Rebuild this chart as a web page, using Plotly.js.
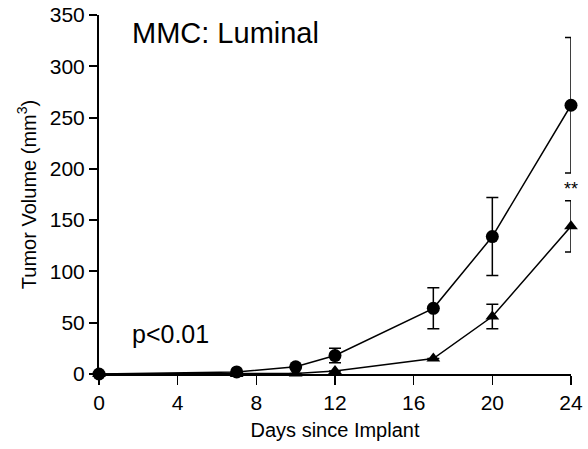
<!DOCTYPE html>
<html>
<head>
<meta charset="utf-8">
<script src="https://cdn.plot.ly/plotly-3.0.1.min.js"></script>
<style>html,body{margin:0;padding:0;background:#fff;}#chart{width:588px;height:449px;}</style>
</head>
<body>
<div id="chart"></div>
<script>
// Data
const days = [0, 7, 10, 12, 17, 20, 24];
const circleMean = [0, 2, 7, 18, 64, 134, 262];
const circleErr  = [0, 0, 0, 7, 20, 38, 66];
const triangleMean = [0, 0, 0.5, 3, 15, 56, 144];
const triangleErr  = [0, 0, 0, 0, 0, 12, 25];
const xTicks = [0, 4, 8, 12, 16, 20, 24];
const yTicks = [0, 50, 100, 150, 200, 250, 300, 350];

const FONT = '"Liberation Sans", Arial, Helvetica, sans-serif';

function series(y, err, symbol, size) {
  return {
    x: days, y: y, type: 'scatter', mode: 'lines+markers',
    line: {color: '#000', width: 1.5},
    marker: {symbol: symbol, size: size, color: '#000'},
    error_y: {type: 'data', array: err, visible: true, color: '#000', thickness: 1.5, width: 6},
    cliponaxis: false, showlegend: false, hoverinfo: 'skip'
  };
}

const data = [
  series(triangleMean, triangleErr, 'triangle-up', 12),
  series(circleMean, circleErr, 'circle', 13)
];

const layout = {
  width: 588, height: 449,
  margin: {l: 99, r: 17, t: 15, b: 75},
  paper_bgcolor: '#fff', plot_bgcolor: '#fff',
  font: {family: FONT, color: '#000'},
  showlegend: false,
  xaxis: {
    range: [0, 24], tickvals: xTicks, ticktext: xTicks.map(String),
    showline: true, linecolor: '#000', linewidth: 2,
    ticks: 'outside', ticklen: 9, tickwidth: 1.5, tickcolor: '#000',
    showgrid: false, zeroline: false,
    tickfont: {size: 21, family: FONT, color: '#000'},
    title: {text: 'Days since Implant', font: {size: 20, family: FONT, color: '#000'}, standoff: 10}
  },
  yaxis: {
    range: [0, 350], tickvals: yTicks, ticktext: yTicks.map(String),
    showline: true, linecolor: '#000', linewidth: 2,
    ticks: 'outside', ticklen: 8, tickwidth: 2, tickcolor: '#000',
    showgrid: false, zeroline: false,
    tickfont: {size: 21, family: FONT, color: '#000'},
    title: {text: 'Tumor Volume (mm<sup>3</sup>)', font: {size: 20, family: FONT, color: '#000'}, standoff: 8}
  },
  annotations: [
    {text: 'MMC: Luminal', xref: 'paper', yref: 'paper', x: 0.268, y: 0.949,
     xanchor: 'center', yanchor: 'middle', showarrow: false,
     font: {size: 29, family: FONT, color: '#000'}},
    {text: 'p&lt;0.01', xref: 'paper', yref: 'paper', x: 0.1515, y: 0.1106,
     xanchor: 'center', yanchor: 'middle', showarrow: false,
     font: {size: 25, family: FONT, color: '#000'}},
    {text: '**', xref: 'x', yref: 'y', x: 24, y: 180,
     xanchor: 'center', yanchor: 'middle', showarrow: false,
     font: {size: 18, family: FONT, color: '#000'}}
  ]
};

Plotly.newPlot('chart', data, layout, {staticPlot: true, displayModeBar: false});
</script>
</body>
</html>
